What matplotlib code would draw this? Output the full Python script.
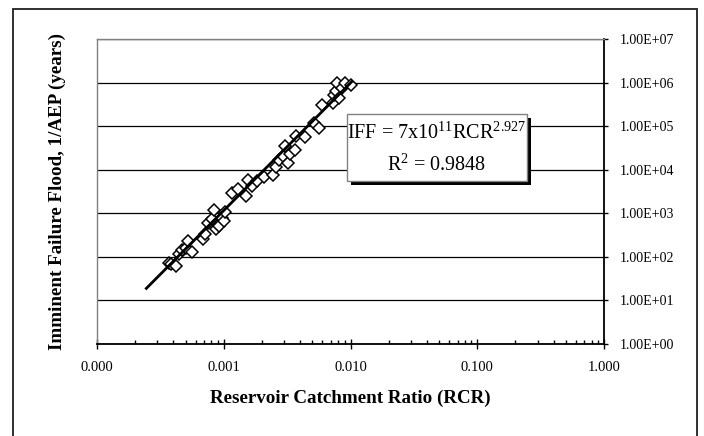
import numpy as np
import matplotlib
matplotlib.use("Agg")
import matplotlib.pyplot as plt
from matplotlib.patches import Rectangle
from matplotlib.ticker import FixedLocator, FuncFormatter, LogLocator, NullFormatter

plt.rcParams['font.family'] = ['Liberation Serif', 'DejaVu Serif']
plt.rcParams['mathtext.fontset'] = 'custom'
plt.rcParams['mathtext.rm'] = 'Liberation Serif'
plt.rcParams['mathtext.it'] = 'Liberation Serif:italic'
plt.rcParams['mathtext.bf'] = 'Liberation Serif:bold'

# reservoir catchment ratio vs imminent failure flood (years)
rcr = [3.69e-4, 3.85e-4, 4.18e-4, 4.46e-4, 4.72e-4, 5.00e-4, 5.25e-4, 5.65e-4,
       6.82e-4, 7.11e-4, 7.53e-4, 8.04e-4, 8.38e-4, 8.71e-4, 9.23e-4, 9.70e-4,
       1.00e-3, 1.03e-3, 1.16e-3, 1.29e-3, 1.49e-3, 1.55e-3, 1.68e-3, 1.82e-3,
       2.06e-3, 2.43e-3, 2.57e-3, 2.74e-3, 2.93e-3, 3.05e-3, 3.23e-3, 3.36e-3,
       3.65e-3, 3.71e-3, 4.41e-3, 5.19e-3, 5.63e-3, 6.01e-3, 7.31e-3, 7.43e-3,
       7.62e-3, 7.81e-3, 8.07e-3, 8.61e-3, 8.97e-3, 1.00e-2]
iff = [73, 67, 62, 114, 143, 161, 230, 129,
       260, 326, 605, 721, 1160, 425, 508, 787,
       659, 1081, 2846, 3630, 2558, 5740, 4180, 5440,
       6840, 7450, 11370, 16440, 20300, 34400, 14270, 23400,
       28800, 58400, 55400, 118000, 90600, 304000, 338000, 525000,
       624000, 1000000, 440000, 750000, 1000000, 876000]

# power trendline shown on the chart
fit_coef = 7e11
fit_exp = 2.927
fit_range = [0.000245, 0.0102]
eq_text = "IFF = 7x10$^{11}$RCR$^{2.927}$"
r2_text = "R$^{2}$ = 0.9848"

x_ticks = [0.0001, 0.001, 0.01, 0.1, 1.0]
y_ticks = [1e0, 1e1, 1e2, 1e3, 1e4, 1e5, 1e6, 1e7]

fig = plt.figure(figsize=(7.04, 4.36), dpi=100)
ax = fig.add_axes([97 / 704, 1 - 344 / 436, 507 / 704, 305 / 436])

# outer frame around the chart
fig.patches.append(Rectangle((13 / 704, -0.1), 684 / 704, 1.1 - 9 / 436,
                             transform=fig.transFigure, fill=False,
                             edgecolor='#202020', lw=1.3))

ax.plot(rcr, iff, linestyle='none', marker='D', ms=6.3, mfc='white',
        mec='black', mew=1.1, zorder=3)
tx = np.geomspace(fit_range[0], fit_range[1], 50)
ax.plot(tx, fit_coef * tx ** fit_exp, color='black', lw=2, zorder=4)

ax.set_xscale('log')
ax.set_yscale('log')
ax.set_xlim(1e-4, 1.0)
ax.set_ylim(1e0, 1e7)

ax.xaxis.set_major_locator(FixedLocator(x_ticks))
ax.xaxis.set_major_formatter(FuncFormatter(lambda v, p: f"{v:.3f}"))
ax.xaxis.set_minor_locator(LogLocator(base=10, subs=np.arange(2, 10)))
ax.xaxis.set_minor_formatter(NullFormatter())
ax.yaxis.set_major_locator(FixedLocator(y_ticks))
ax.yaxis.set_major_formatter(FuncFormatter(lambda v, p: f"{v:.2E}"))
ax.yaxis.set_minor_locator(FixedLocator([]))
ax.yaxis.tick_right()

ax.tick_params(axis='x', which='major', direction='inout', length=7,
               width=1, pad=9, labelsize=10.5)
ax.tick_params(axis='x', which='minor', direction='in', length=3, width=1)
ax.tick_params(axis='y', which='major', direction='out', length=3,
               width=1, pad=8, labelsize=10)

ax.grid(axis='y', color='black', lw=0.9)
ax.set_axisbelow(True)
for side in ['left', 'top']:
    ax.spines[side].set_color('#808080')
    ax.spines[side].set_linewidth(1.0)
for side in ['right', 'bottom']:
    ax.spines[side].set_color('black')
    ax.spines[side].set_linewidth(1.3)

ax.set_xlabel("Reservoir Catchment Ratio (RCR)", fontsize=13.7,
              fontweight='bold')
ax.xaxis.set_label_coords(0.5, -46 / 305)
ax.set_ylabel("Imminent Failure Flood, 1/AEP (years)", fontsize=13.7,
              fontweight='bold')
ax.yaxis.set_label_position('left')
ax.yaxis.set_label_coords(-31 / 507, 0.5)

# equation box with shadow
bx0, bx1 = (347 - 97) / 507, (527 - 97) / 507
by0, by1 = (344 - 181) / 305, (344 - 114) / 305
ax.add_patch(Rectangle((bx0 + 4 / 507, by0 - 4 / 305), bx1 - bx0, by1 - by0,
                       transform=ax.transAxes, facecolor='black',
                       edgecolor='none', zorder=5))
ax.add_patch(Rectangle((bx0, by0), bx1 - bx0, by1 - by0,
                       transform=ax.transAxes, facecolor='white',
                       edgecolor='#808080', lw=1, zorder=6))
cx = (bx0 + bx1) / 2
ax.text(cx, (344 - 133) / 305, eq_text, transform=ax.transAxes,
        ha='center', va='center', fontsize=14.5, zorder=7)
ax.text(cx, (344 - 165) / 305, r2_text, transform=ax.transAxes,
        ha='center', va='center', fontsize=14.5, zorder=7)

fig.savefig("out.png", dpi=100)
